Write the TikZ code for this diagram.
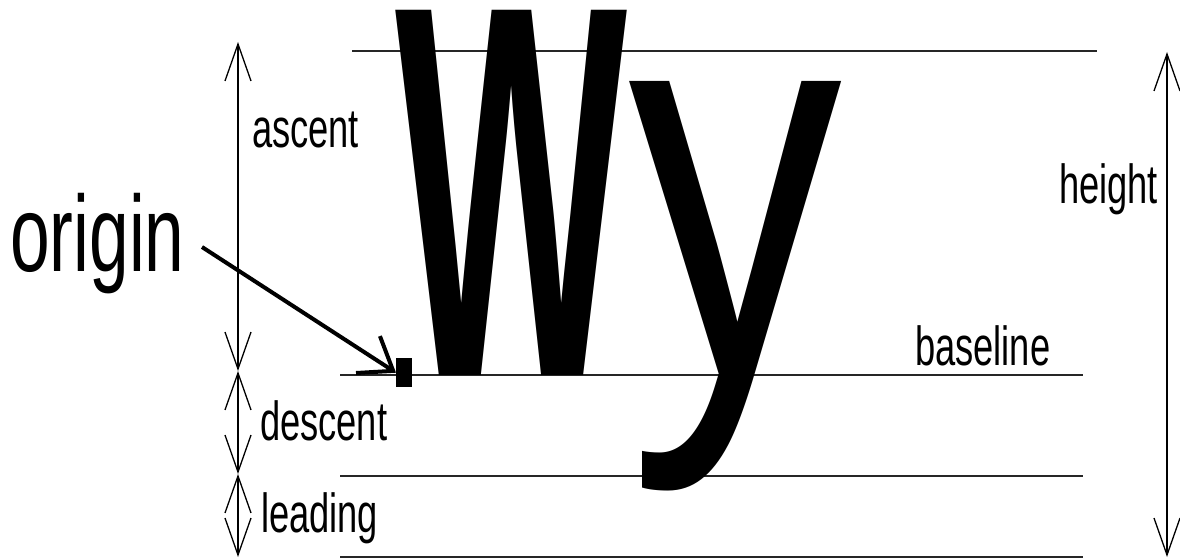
\documentclass[tikz,border=0pt]{standalone}
\usepackage{fontspec}
\setmainfont{Liberation Sans}
\usetikzlibrary{arrows.meta}
\newcommand\hsq[1]{\scalebox{0.66}[1]{#1}}
\tikzset{
  lbl/.style={inner sep=0pt, outer sep=0pt, anchor=base west, font=\fontsize{55}{55}\selectfont},
  rule/.style={line width=1.3pt, black!85},
  dim/.style={line width=1.3pt, {Straight Barb[length=37pt,width=26pt]}-{Straight Barb[length=37pt,width=26pt]}},
  ptr/.style={line width=4pt, -{Straight Barb[length=30pt,width=44pt]}},
}
\begin{document}
\begin{tikzpicture}[x=1pt,y=-1pt]
\useasboundingbox (0,0) rectangle (1180,559);
% guide lines
\draw[rule] (352,51) -- (1097,51);
\draw[rule] (340,375) -- (1083,375);
\draw[rule] (340,476) -- (1083,476);
\draw[rule] (340,557) -- (1083,557);
% big glyphs
\node[inner sep=0pt, anchor=base west] (W) at (395,375) {\resizebox{232pt}{365pt}{\bfseries W}};
\node[inner sep=0pt, anchor=base west] (Y) at (628,375) {\resizebox{214pt}{294pt}{y}};
% labels
\node[lbl] (ascent) at (252,147) {\hsq{ascent}};
\node[lbl] (descent) at (260,440) {\hsq{descent}};
\node[lbl] (leading) at (261,532) {\hsq{leading}};
\node[lbl] (baseline) at (915,365) {\hsq{baseline}};
\node[lbl] (height) at (1059,203) {\hsq{height}};
\node[inner sep=0pt, anchor=base west, font=\fontsize{108}{108}\selectfont] (origin) at (10,271) {\hsq{origin}};
% origin marker
\node[fill=black, inner sep=0pt, minimum width=16pt, minimum height=29pt, anchor=north west] (mark) at (396,358) {};
% dimension coordinates
\coordinate (a1) at (238,42);
\coordinate (a2) at (238,371);
\coordinate (a3) at (238,474);
\coordinate (a4) at (238,557);
\coordinate (h1) at (1167,52);
\coordinate (h2) at (1167,557);
\coordinate (ostart) at (202,247);
% dimension arrows
\draw[dim] (a1) -- (a2);
\draw[dim] (a2) -- (a3);
\draw[dim] (a3) -- (a4);
\draw[dim] (h1) -- (h2);
% origin pointer
\draw[ptr] (ostart) -- (mark.west);
\end{tikzpicture}
\end{document}
